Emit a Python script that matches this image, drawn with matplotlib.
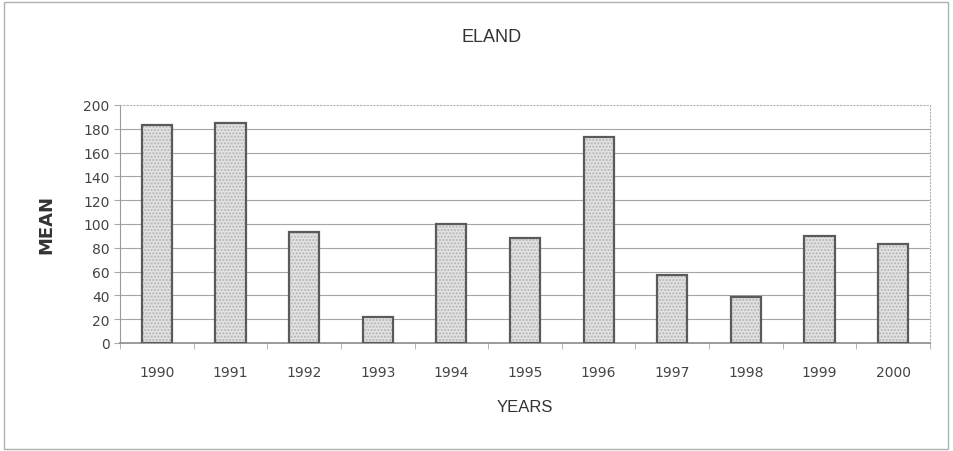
import numpy as np
import matplotlib.pyplot as plt
from matplotlib.patches import Rectangle

years = ['1990', '1991', '1992', '1993', '1994', '1995',
         '1996', '1997', '1998', '1999', '2000']
mean = [183, 185, 93, 22, 100, 88, 173, 57, 39, 90, 83]

fig = plt.figure(figsize=(9.54, 4.52), dpi=100)
# frame round the whole chart
fig.patches.append(Rectangle((0.004, 0.005), 0.99, 0.988, transform=fig.transFigure,
                             fill=False, edgecolor='#b0b0b0', linewidth=1))

ax = fig.add_axes([0.1258, 0.239, 0.849, 0.5265])
x = np.arange(len(years))

# stippled fill first, then the dark outline on top
ax.bar(x, mean, width=0.41, color='#e2e2e2', edgecolor='#b4b4b4',
       hatch='.....', linewidth=0, zorder=3)
ax.bar(x, mean, width=0.41, fill=False, edgecolor='#5a5a5a',
       linewidth=1.6, zorder=4)

ax.set_ylim(0, 200)
ax.set_xlim(-0.5, len(years) - 0.5)
ax.set_yticks(range(0, 201, 20))
ax.set_xticks(x)
ax.set_xticklabels(years)
# gridlines 20..180, the top edge stays dotted
for v in range(20, 200, 20):
    ax.axhline(v, color='#a4a4a4', linewidth=0.8, zorder=1)

ax.tick_params(axis='y', labelsize=10, length=4, width=0.8, color='#aaaaaa')
ax.tick_params(axis='x', labelsize=10, length=0, pad=16)
for lab in ax.get_yticklabels() + ax.get_xticklabels():
    lab.set_color('#444444')
ax.set_xticks(np.arange(-0.5, len(years)), minor=True)
ax.tick_params(axis='x', which='minor', length=4, color='#aaaaaa')

ax.spines['left'].set_color('#9a9a9a')
ax.spines['bottom'].set_color('#8a8a8a')
ax.spines['bottom'].set_linewidth(1.2)
for s in ['top', 'right']:
    ax.spines[s].set_color('#b0b0b0')
    ax.spines[s].set_linestyle((0, (1, 2)))

fig.text(0.515, 0.918, 'ELAND', ha='center', va='center', fontsize=13,
         family='Liberation Sans', color='#333333')
ax.set_xlabel('YEARS', fontsize=12, family='Liberation Sans', color='#333333',
              labelpad=14)
ax.set_ylabel('MEAN', fontsize=13, family='DejaVu Sans', fontweight='bold',
              color='#333333', labelpad=20)

fig.savefig('out.png', dpi=100, facecolor='white')
